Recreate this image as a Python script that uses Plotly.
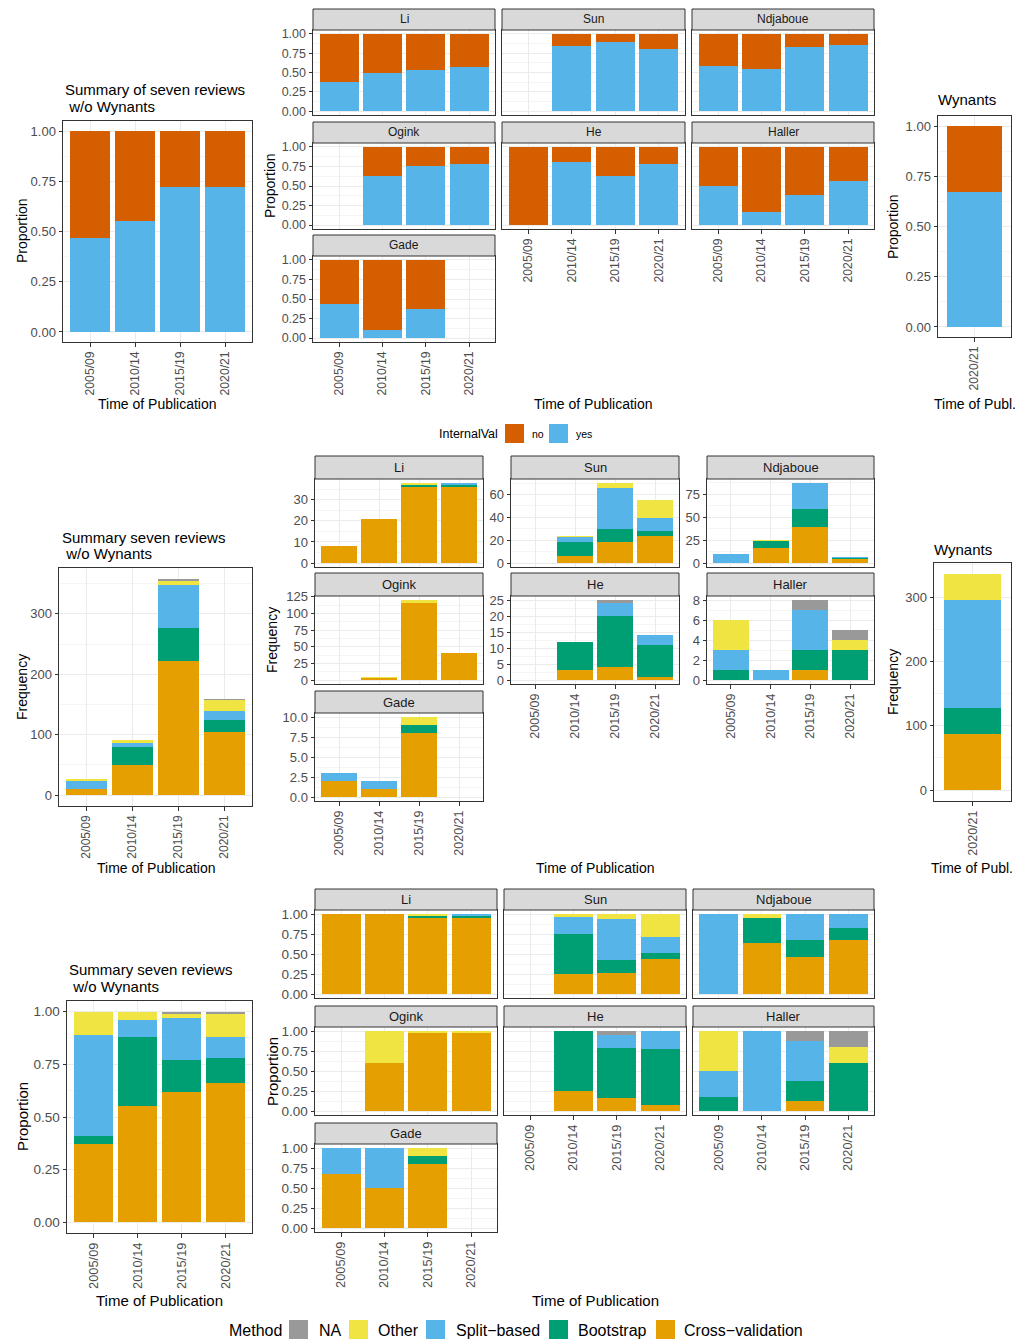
import plotly.graph_objects as go

W, H = 1031, 1341
FONT = "Liberation Sans, Arial, Helvetica, sans-serif"
GRID = "#EBEBEB"
AXL = "#333333"
TICKC = "#4D4D4D"

# ---------------- data ----------------
periods = ["2005/09", "2010/14", "2015/19", "2020/21"]
wyn_periods = ["2020/21"]
facet_order = ["Li", "Sun", "Ndjaboue", "Ogink", "He", "Haller", "Gade"]

iv_labels = ["no", "yes"]
iv_colors = {"no": "#D55E00", "yes": "#56B4E9"}

method_labels = ["NA", "Other", "Split\u2212based", "Bootstrap", "Cross\u2212validation"]
method_colors = {"NA": "#999999", "Other": "#F0E442", "Split\u2212based": "#56B4E9",
                 "Bootstrap": "#009E73", "Cross\u2212validation": "#E69F00"}

# Row 1: proportion of models with internal validation (yes / no)
iv_yes = {
    "Summary": [0.47, 0.55, 0.72, 0.72],
    "Li": [0.38, 0.50, 0.53, 0.57],
    "Sun": [None, 0.84, 0.90, 0.81],
    "Ndjaboue": [0.58, 0.55, 0.83, 0.85],
    "Ogink": [None, 0.63, 0.75, 0.78],
    "He": [0.00, 0.81, 0.63, 0.78],
    "Haller": [0.50, 0.17, 0.39, 0.57],
    "Gade": [0.43, 0.10, 0.37, None],
    "Wynants": [0.67],
}
iv_no = {
    "Summary": [0.53, 0.45, 0.28, 0.28],
    "Li": [0.62, 0.50, 0.47, 0.43],
    "Sun": [None, 0.16, 0.10, 0.19],
    "Ndjaboue": [0.42, 0.45, 0.17, 0.15],
    "Ogink": [None, 0.37, 0.25, 0.22],
    "He": [1.00, 0.19, 0.37, 0.22],
    "Haller": [0.50, 0.83, 0.61, 0.43],
    "Gade": [0.57, 0.90, 0.63, None],
    "Wynants": [0.33],
}

# Row 2: frequency of internal validation methods
count_cv = {
    "Summary": [10, 50, 222, 104],
    "Li": [8, 21, 36, 36], "Sun": [0, 6, 18, 24], "Ndjaboue": [0, 16, 39, 4],
    "Ogink": [0, 3, 116, 40], "He": [0, 3, 4, 1], "Haller": [0, 0, 1, 0],
    "Gade": [2, 1, 8, 0], "Wynants": [88],
}
count_boot = {
    "Summary": [1, 30, 54, 20],
    "Li": [0, 0, 1, 1], "Sun": [0, 12, 12, 4], "Ndjaboue": [0, 8, 20, 1],
    "Ogink": [0, 0, 0, 0], "He": [0, 9, 16, 10], "Haller": [1, 0, 2, 3],
    "Gade": [0, 0, 1, 0], "Wynants": [40],
}
count_split = {
    "Summary": [13, 7, 71, 15],
    "Li": [0, 0, 0, 1], "Sun": [0, 5, 36, 11], "Ndjaboue": [10, 0, 28, 1],
    "Ogink": [0, 0, 0, 0], "He": [0, 0, 4, 3], "Haller": [2, 1, 4, 0],
    "Gade": [1, 1, 0, 0], "Wynants": [168],
}
count_other = {
    "Summary": [3, 4, 8, 18],
    "Li": [0, 0, 1, 0], "Sun": [0, 1, 4, 16], "Ndjaboue": [0, 1, 0, 0],
    "Ogink": [0, 2, 4, 1], "He": [0, 0, 0, 0], "Haller": [3, 0, 0, 1],
    "Gade": [0, 0, 1, 0], "Wynants": [40],
}
count_na = {
    "Summary": [0, 0, 3, 2],
    "Li": [0, 0, 0, 0], "Sun": [0, 0, 0, 0], "Ndjaboue": [0, 0, 0, 0],
    "Ogink": [0, 0, 0, 0], "He": [0, 0, 1, 0], "Haller": [0, 0, 1, 1],
    "Gade": [0, 0, 0, 0], "Wynants": [0],
}

# Row 3: proportion of internal validation methods
prop_cv = {
    "Summary": [0.37, 0.55, 0.62, 0.66],
    "Li": [1.00, 1.00, 0.95, 0.95], "Sun": [None, 0.25, 0.26, 0.44],
    "Ndjaboue": [0.00, 0.64, 0.46, 0.67], "Ogink": [None, 0.60, 0.97, 0.97],
    "He": [None, 0.25, 0.16, 0.07], "Haller": [0.00, 0.00, 0.125, 0.00],
    "Gade": [0.67, 0.50, 0.80, None],
}
prop_boot = {
    "Summary": [0.04, 0.33, 0.15, 0.12],
    "Li": [0.00, 0.00, 0.025, 0.025], "Sun": [None, 0.50, 0.17, 0.07],
    "Ndjaboue": [0.00, 0.31, 0.22, 0.16], "Ogink": [None, 0.00, 0.00, 0.00],
    "He": [None, 0.75, 0.63, 0.71], "Haller": [0.17, 0.00, 0.25, 0.60],
    "Gade": [0.00, 0.00, 0.10, None],
}
prop_split = {
    "Summary": [0.48, 0.08, 0.20, 0.10],
    "Li": [0.00, 0.00, 0.00, 0.025], "Sun": [None, 0.21, 0.51, 0.20],
    "Ndjaboue": [1.00, 0.00, 0.32, 0.17], "Ogink": [None, 0.00, 0.00, 0.00],
    "He": [None, 0.00, 0.16, 0.22], "Haller": [0.33, 1.00, 0.50, 0.00],
    "Gade": [0.33, 0.50, 0.00, None],
}
prop_other = {
    "Summary": [0.11, 0.04, 0.02, 0.11],
    "Li": [0.00, 0.00, 0.025, 0.00], "Sun": [None, 0.04, 0.06, 0.29],
    "Ndjaboue": [0.00, 0.05, 0.00, 0.00], "Ogink": [None, 0.40, 0.03, 0.03],
    "He": [None, 0.00, 0.00, 0.00], "Haller": [0.50, 0.00, 0.00, 0.20],
    "Gade": [0.00, 0.00, 0.10, None],
}
prop_na = {
    "Summary": [0.00, 0.00, 0.01, 0.01],
    "Li": [0, 0, 0, 0], "Sun": [None, 0, 0, 0], "Ndjaboue": [0, 0, 0, 0],
    "Ogink": [None, 0, 0, 0], "He": [None, 0.00, 0.05, 0.00],
    "Haller": [0.00, 0.00, 0.125, 0.20], "Gade": [0, 0, 0, None],
}

# stacking order (bottom -> top)
iv_stack = [("yes", iv_yes), ("no", iv_no)]
count_stack = [("Cross\u2212validation", count_cv), ("Bootstrap", count_boot),
               ("Split\u2212based", count_split), ("Other", count_other), ("NA", count_na)]
prop_stack = [("Cross\u2212validation", prop_cv), ("Bootstrap", prop_boot),
              ("Split\u2212based", prop_split), ("Other", prop_other), ("NA", prop_na)]

# ---------------- figure helpers ----------------
fig = go.Figure()
axes = {}
shapes = []
annots = []
counter = [0]


def X(v):
    return v / W


def Y(v):
    return 1 - v / H


def add_panel(box, cats, stack, colors, key, yr, dtick, fmt, show_x, show_y, fs, xfs):
    counter[0] += 1
    i = counter[0]
    sfx = "" if i == 1 else str(i)
    l, r, t, b = box
    for label, table in stack:
        fig.add_trace(go.Bar(x=cats, y=table[key], name=label,
                             marker=dict(color=colors[label], line=dict(width=0)),
                             xaxis="x" + sfx, yaxis="y" + sfx, showlegend=False))
    axes["xaxis" + sfx] = dict(
        domain=[X(l), X(r)], anchor="y" + sfx, type="category", automargin=False,
        categoryorder="array", categoryarray=cats, range=[-0.6, len(cats) - 0.4],
        showgrid=True, gridcolor=GRID, gridwidth=1, zeroline=False,
        showline=True, mirror=True, linecolor=AXL, linewidth=1,
        ticks="outside" if show_x else "", ticklen=3.5, tickwidth=1, tickcolor=AXL,
        showticklabels=show_x, tickangle=-90,
        tickfont=dict(size=xfs, color=TICKC, family=FONT), fixedrange=True)
    axes["yaxis" + sfx] = dict(
        domain=[Y(b), Y(t)], anchor="x" + sfx, range=yr, automargin=False,
        tickmode="linear", tick0=0, dtick=dtick, tickformat=fmt,
        showgrid=True, gridcolor=GRID, gridwidth=1, zeroline=False,
        minor=dict(tickmode="linear", tick0=0, dtick=dtick / 2, showgrid=True,
                   gridcolor=GRID, gridwidth=0.5, ticks=""),
        showline=True, mirror=True, linecolor=AXL, linewidth=1,
        ticks="outside" if show_y else "", ticklen=3.5, tickwidth=1, tickcolor=AXL,
        showticklabels=show_y, tickfont=dict(size=fs, color=TICKC, family=FONT),
        fixedrange=True)


def strip(l, r, t, b, text, fs):
    shapes.append(dict(type="rect", xref="paper", yref="paper", x0=X(l), x1=X(r),
                       y0=Y(b), y1=Y(t), fillcolor="#D9D9D9",
                       line=dict(color=AXL, width=1), layer="above"))
    annots.append(dict(text=text, x=X((l + r) / 2), y=Y((t + b) / 2), xref="paper",
                       yref="paper", showarrow=False, xanchor="center", yanchor="middle",
                       font=dict(size=fs, color="#1A1A1A", family=FONT)))


def txt(x, y, s, size, angle=0, xanchor="center", color="#000000"):
    annots.append(dict(text=s, x=X(x), y=Y(y), xref="paper", yref="paper",
                       showarrow=False, xanchor=xanchor, yanchor="middle",
                       textangle=angle, font=dict(size=size, color=color, family=FONT)))


def swatch(l, r, t, b, color):
    shapes.append(dict(type="rect", xref="paper", yref="paper", x0=X(l), x1=X(r),
                       y0=Y(b), y1=Y(t), fillcolor=color, line=dict(width=0)))


def freq_range(key):
    tot = [sum(tbl[key][k] for _, tbl in count_stack) for k in range(len(count_cv[key]))]
    m = max(tot)
    return [-0.05 * m, 1.05 * m]


PROP_RANGE = [-0.05, 1.05]


def facet_block(cols, strips, plots, stack, colors, fs_tick, xfs, fs_strip, free):
    for idx, name in enumerate(facet_order):
        rr, cc = divmod(idx, 3)
        l, r = cols[cc]
        st, sb = strips[rr]
        pt, pb = plots[rr]
        show_x = name in ("He", "Haller", "Gade")
        if free:
            yr = freq_range(name)
            dt = {"Li": 10, "Sun": 20, "Ndjaboue": 25, "Ogink": 25, "He": 5,
                  "Haller": 2, "Gade": 2.5}[name]
            fmt = ".1f" if name == "Gade" else "d"
            show_y = True
        else:
            yr, dt, fmt = PROP_RANGE, 0.25, ".2f"
            show_y = cc == 0
        add_panel((l, r, pt, pb), periods, stack, colors, name, yr, dt, fmt,
                  show_x, show_y, fs_tick, xfs)
        strip(l, r, st, sb, name, fs_strip)


# ---------------- Row 1: InternalVal proportions ----------------
add_panel((63, 252, 121, 342), periods, iv_stack, iv_colors, "Summary", PROP_RANGE,
          0.25, ".2f", True, True, 13, 12.2)
txt(63, 89, "Summary of seven reviews", 15, xanchor="left")
txt(63, 106, "\u00a0w/o Wynants", 15, xanchor="left")
txt(22, 231, "Proportion", 14, angle=-90)
txt(157, 404, "Time of Publication", 14)

facet_block([(313, 495), (502, 685), (692, 874)],
            [(9, 30), (122, 143), (235, 256)],
            [(30, 115), (143, 229), (256, 342)],
            iv_stack, iv_colors, 12.5, 12.2, 12, False)
txt(270, 186, "Proportion", 14, angle=-90)
txt(593, 404, "Time of Publication", 14)

add_panel((938, 1011, 116, 337), wyn_periods, iv_stack, iv_colors, "Wynants", PROP_RANGE,
          0.25, ".2f", True, True, 13, 12.2)
txt(967, 100, "Wynants", 15)
txt(893, 227, "Proportion", 14, angle=-90)
txt(975, 404, "Time of Publ.", 14)

# legend row 1
txt(437, 434, "InternalVal", 12.5, xanchor="left")
swatch(505, 524, 424, 443, iv_colors["no"])
txt(530, 434, "no", 10.5, xanchor="left")
swatch(549, 568, 424, 443, iv_colors["yes"])
txt(574, 434, "yes", 10.5, xanchor="left")

# ---------------- Row 2: Method frequencies ----------------
add_panel((59, 252, 568, 806), periods, count_stack, method_colors, "Summary",
          freq_range("Summary"), 100, "d", True, True, 13, 12)
txt(60, 537, "Summary seven reviews", 15, xanchor="left")
txt(60, 554, "\u00a0w/o Wynants", 15, xanchor="left")
txt(22, 687, "Frequency", 14, angle=-90)
txt(156, 868, "Time of Publication", 14)

facet_block([(315, 483), (511, 679), (707, 874)],
            [(456, 479), (573, 596), (691, 713)],
            [(479, 567), (596, 684), (713, 801)],
            count_stack, method_colors, 13, 12.5, 13, True)
txt(272, 640, "Frequency", 14, angle=-90)
txt(595, 868, "Time of Publication", 14)

add_panel((934, 1011, 563, 801), wyn_periods, count_stack, method_colors, "Wynants",
          freq_range("Wynants"), 100, "d", True, True, 13, 12.5)
txt(963, 549, "Wynants", 15)
txt(893, 682, "Frequency", 14, angle=-90)
txt(972, 868, "Time of Publ.", 14)

# ---------------- Row 3: Method proportions ----------------
add_panel((67, 252, 1001, 1233), periods, prop_stack, method_colors, "Summary",
          PROP_RANGE, 0.25, ".2f", True, True, 13.5, 12.8)
txt(67, 969, "Summary seven reviews", 15, xanchor="left")
txt(67, 986, "\u00a0w/o Wynants", 15, xanchor="left")
txt(22, 1117, "Proportion", 15, angle=-90)
txt(159, 1300, "Time of Publication", 15)

facet_block([(315, 497), (504, 686), (693, 874)],
            [(889, 910), (1006, 1027), (1123, 1144)],
            [(910, 998), (1027, 1115), (1144, 1232)],
            prop_stack, method_colors, 13.5, 12.8, 13, False)
txt(272, 1072, "Proportion", 15, angle=-90)
txt(595, 1300, "Time of Publication", 15)

# legend row 3
txt(227, 1330, "Method", 16, xanchor="left")
legend_pos = [(289, 317), (349, 376), (426, 454), (549, 576), (656, 682)]
for lab, (sx, tx) in zip(method_labels, legend_pos):
    swatch(sx, sx + 19, 1320, 1339, method_colors[lab])
    txt(tx, 1330, lab, 16, xanchor="left")

fig.update_layout(
    width=W, height=H, margin=dict(l=0, r=0, t=0, b=0, pad=0, autoexpand=False),
    paper_bgcolor="white", plot_bgcolor="white",
    barmode="stack", bargap=0.1, showlegend=False,
    font=dict(family=FONT, color="#000000"),
    shapes=shapes, annotations=annots, **axes,
)
fig.write_html(
    "out.html",
    config={"displayModeBar": False, "staticPlot": True},
    post_script=(
        "document.documentElement.style.margin='0';"
        "document.body.style.margin='0';document.body.style.overflow='hidden';"
        "var gd=document.getElementById('{plot_id}');"
        "gd.style.position='fixed';gd.style.left='0px';gd.style.top='0px';"
    ),
)
